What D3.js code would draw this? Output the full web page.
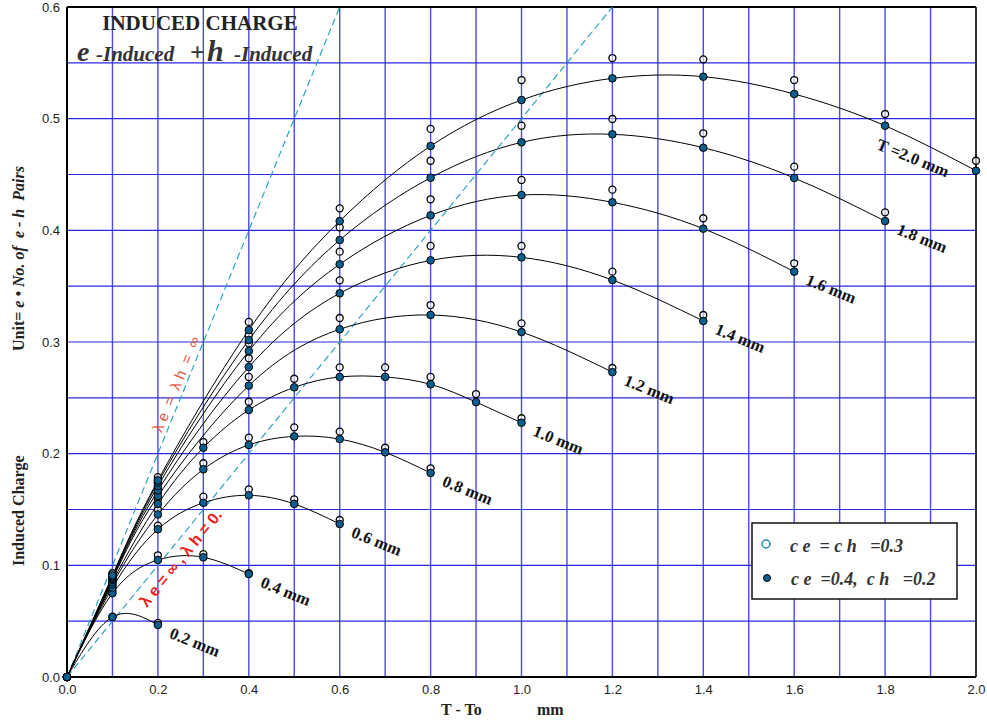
<!DOCTYPE html>
<html>
<head>
<meta charset="utf-8">
<script src="https://cdn.jsdelivr.net/npm/d3@7"></script>
<style>
  body { margin: 0; background: #fff; }
  svg { display: block; }
  .tick text { font-family: "Liberation Sans", Arial, sans-serif; font-size: 13px; fill: #222; }
  .serif { font-family: "Liberation Serif", "Times New Roman", serif; font-weight: bold; }
</style>
</head>
<body>
<script>
var width = 987,
    height = 721;

// thicknesses T (mm) of each curve
const thickness = [0.2, 0.4, 0.6, 0.8, 1.0, 1.2, 1.4, 1.6, 1.8, 2.0];
const curveLabels = ["0.2 mm", "0.4 mm", "0.6 mm", "0.8 mm", "1.0 mm", "1.2 mm", "1.4 mm", "1.6 mm", "1.8 mm", "T =2.0 mm"];

// T - To positions (mm) for every curve
const xT02 = [0, 0.1, 0.2];
const xT04 = [0, 0.1, 0.2, 0.3, 0.4];
const xT06 = [0, 0.1, 0.2, 0.3, 0.4, 0.5, 0.6];
const xT08 = [0, 0.1, 0.2, 0.3, 0.4, 0.5, 0.6, 0.7, 0.8];
const xT10 = [0, 0.1, 0.2, 0.3, 0.4, 0.5, 0.6, 0.7, 0.8, 0.9, 1.0];
const xT12 = [0, 0.1, 0.2, 0.4, 0.6, 0.8, 1.0, 1.2];
const xT14 = [0, 0.1, 0.2, 0.4, 0.6, 0.8, 1.0, 1.2, 1.4];
const xT16 = [0, 0.1, 0.2, 0.4, 0.6, 0.8, 1.0, 1.2, 1.4, 1.6];
const xT18 = [0, 0.1, 0.2, 0.4, 0.6, 0.8, 1.0, 1.2, 1.4, 1.6, 1.8];
const xT20 = [0, 0.1, 0.2, 0.4, 0.6, 0.8, 1.0, 1.2, 1.4, 1.6, 1.8, 2.0];

// ce = 0.4, ch = 0.2 (filled points, curves drawn through them)
const fT02 = [0, 0.0537, 0.0466];
const fT04 = [0, 0.075, 0.1048, 0.1072, 0.0922];
const fT06 = [0, 0.080, 0.1323, 0.156, 0.1627, 0.155, 0.137];
const fT08 = [0, 0.083, 0.1455, 0.186, 0.2078, 0.2155, 0.2131, 0.2012, 0.1827];
const fT10 = [0, 0.085, 0.155, 0.2053, 0.2391, 0.2594, 0.2687, 0.2687, 0.2621, 0.2462, 0.2277];
const fT12 = [0, 0.087, 0.162, 0.2609, 0.3114, 0.3242, 0.3089, 0.273];
const fT14 = [0, 0.088, 0.167, 0.2776, 0.3436, 0.3731, 0.3758, 0.3555, 0.3188];
const fT16 = [0, 0.089, 0.171, 0.2919, 0.3696, 0.4134, 0.4316, 0.4251, 0.4015, 0.363];
const fT18 = [0, 0.090, 0.174, 0.3018, 0.3913, 0.4471, 0.4788, 0.486, 0.474, 0.4469, 0.4083];
const fT20 = [0, 0.091, 0.176, 0.3107, 0.4083, 0.4755, 0.5167, 0.5361, 0.5376, 0.5221, 0.4937, 0.4534];

// ce = ch = 0.3 (open points)
const oT02 = [0, 0.054, 0.0485];
const oT04 = [0, 0.077, 0.109, 0.110, 0.093];
const oT06 = [0, 0.082, 0.1355, 0.1615, 0.168, 0.159, 0.1406];
const oT08 = [0, 0.085, 0.150, 0.1914, 0.2143, 0.2236, 0.2197, 0.2053, 0.1869];
const oT10 = [0, 0.087, 0.159, 0.2104, 0.2465, 0.2671, 0.2773, 0.2773, 0.2687, 0.2534, 0.2317];
const oT12 = [0, 0.089, 0.165, 0.2687, 0.3215, 0.3331, 0.3167, 0.2767];
const oT14 = [0, 0.090, 0.170, 0.2854, 0.3552, 0.386, 0.386, 0.363, 0.3242];
const oT16 = [0, 0.091, 0.174, 0.2988, 0.3809, 0.4278, 0.4451, 0.4364, 0.4108, 0.3705];
const oT18 = [0, 0.092, 0.177, 0.306, 0.4027, 0.4623, 0.4937, 0.4997, 0.4869, 0.457, 0.4161];
const oT20 = [0, 0.093, 0.179, 0.318, 0.4197, 0.4908, 0.5346, 0.5543, 0.5531, 0.5346, 0.5042, 0.4623];

const xTicks = [0, 0.2, 0.4, 0.6, 0.8, 1.0, 1.2, 1.4, 1.6, 1.8, 2.0];
const yTicks = [0, 0.1, 0.2, 0.3, 0.4, 0.5, 0.6];

const xs = [xT02, xT04, xT06, xT08, xT10, xT12, xT14, xT16, xT18, xT20];
const filled = [fT02, fT04, fT06, fT08, fT10, fT12, fT14, fT16, fT18, fT20];
const open = [oT02, oT04, oT06, oT08, oT10, oT12, oT14, oT16, oT18, oT20];

var margin = {left: 67, top: 7, right: 11, bottom: 44};
var plotW = width - margin.left - margin.right,
    plotH = height - margin.top - margin.bottom;

var svg = d3.select("body").append("svg")
    .attr("width", width)
    .attr("height", height);

var x = d3.scaleLinear().domain([0, 2]).range([margin.left, margin.left + plotW]);
var y = d3.scaleLinear().domain([0, 0.6]).range([margin.top + plotH, margin.top]);

svg.append("defs").append("clipPath").attr("id", "clip")
  .append("rect")
    .attr("x", margin.left).attr("y", margin.top)
    .attr("width", plotW).attr("height", plotH);

// grille bleue
var grid = svg.append("g");
grid.selectAll(".vg").data(d3.range(1, 20).map(i => i / 10))
  .join("line")
    .attr("x1", d => x(d)).attr("x2", d => x(d))
    .attr("y1", y(0)).attr("y2", y(0.6))
    .style("stroke", "#4a4ae8").style("stroke-width", 1.4);
grid.selectAll(".hg").data(d3.range(1, 12).map(i => i / 20))
  .join("line")
    .attr("x1", x(0)).attr("x2", x(2))
    .attr("y1", d => y(d)).attr("y2", d => y(d))
    .style("stroke", "#2a2ae0").style("stroke-width", 1.2);

// axes
svg.append("g")
    .attr("transform", `translate(0,${y(0)})`)
    .call(d3.axisBottom(x).tickValues(xTicks).tickFormat(d3.format(".1f")).tickSize(0).tickPadding(8))
    .call(g => g.select(".domain").remove());
svg.append("g")
    .attr("transform", `translate(${x(0)},0)`)
    .call(d3.axisLeft(y).tickValues(yTicks).tickFormat(d3.format(".1f")).tickSize(0).tickPadding(7))
    .call(g => g.select(".domain").remove());

// cadre
svg.append("line").attr("x1", x(0)).attr("x2", x(2)).attr("y1", y(0.6)).attr("y2", y(0.6))
    .style("stroke", "#000").style("stroke-width", 2);
svg.append("line").attr("x1", x(0)).attr("x2", x(2)).attr("y1", y(0)).attr("y2", y(0))
    .style("stroke", "#000").style("stroke-width", 2);
svg.append("line").attr("x1", x(0)).attr("x2", x(0)).attr("y1", y(0)).attr("y2", y(0.6))
    .style("stroke", "#000").style("stroke-width", 2);
svg.append("line").attr("x1", x(2)).attr("x2", x(2)).attr("y1", y(0)).attr("y2", y(0.6))
    .style("stroke", "#333").style("stroke-width", 2);

// lignes limites en pointillés
const limitSlopes = [1.0, 0.5];
svg.append("g").attr("clip-path", "url(#clip)")
  .selectAll("line").data(limitSlopes)
  .join("line")
    .attr("x1", x(0)).attr("y1", y(0))
    .attr("x2", d => x(2)).attr("y2", d => y(2 * d))
    .style("stroke", "#1f9cc4").style("stroke-width", 1.1)
    .style("stroke-dasharray", "7,4");

// courbes
var line = d3.line()
    .x(d => x(d[0]))
    .y(d => y(d[1]))
    .curve(d3.curveNatural);

var series = thickness.map((t, i) => ({
    t: t,
    label: curveLabels[i],
    filled: xs[i].map((v, j) => [v, filled[i][j]]),
    open: xs[i].map((v, j) => [v, open[i][j]])
}));

var plot = svg.append("g");
plot.selectAll(".curve").data(series)
  .join("path")
    .attr("d", d => line(d.filled))
    .style("fill", "none")
    .style("stroke", "#000")
    .style("stroke-width", 1);

// points ouverts (ce = ch = 0.3)
plot.selectAll(".open").data(series.flatMap(s => s.open.slice(1)))
  .join("circle")
    .attr("cx", d => x(d[0])).attr("cy", d => y(d[1]))
    .attr("r", 3.5)
    .style("fill", "#fff").style("fill-opacity", 0.6)
    .style("stroke", "#000").style("stroke-width", 1.3);

// points pleins (ce = 0.4, ch = 0.2)
plot.selectAll(".filled").data(series.flatMap(s => s.filled))
  .join("circle")
    .attr("cx", d => x(d[0])).attr("cy", d => y(d[1]))
    .attr("r", 3.8)
    .style("fill", "#0b5f8e")
    .style("stroke", "#000").style("stroke-width", 1);

// étiquettes des courbes
svg.append("g").selectAll("text").data(series)
  .join("text")
    .attr("class", "serif")
    .attr("transform", d => {
        const last = d.filled[d.filled.length - 1];
        const dx = d.t === 2.0 ? -63 : 37;
        const dy = d.t === 2.0 ? -13 : 17;
        return `translate(${x(last[0]) + dx},${y(last[1]) + dy}) rotate(22)`;
    })
    .attr("text-anchor", "middle")
    .attr("dy", "0.35em")
    .style("font-size", "16.5px")
    .style("fill", "#111")
    .text(d => d.label);

// annotations lambda
svg.append("text")
    .attr("transform", `translate(${x(0.255)},${y(0.2597)}) rotate(-67.8)`)
    .attr("text-anchor", "middle")
    .attr("dy", "-2")
    .style("font-family", "'Liberation Sans', Arial, sans-serif")
    .style("font-size", "15px")
    .style("fill", "#e5553c")
    .style("white-space", "pre")
    .text("λ e  =  λ h  =  ∞");

svg.append("text")
    .attr("transform", `translate(${x(0.25)},${y(0.1066)}) rotate(-50.8)`)
    .attr("text-anchor", "middle")
    .attr("dy", "0.35em")
    .style("font-family", "'Liberation Sans', Arial, sans-serif")
    .style("font-weight", "bold")
    .style("font-size", "16px")
    .style("fill", "#e8231c")
    .style("white-space", "pre")
    .text("λ e = ∞ , λ h = 0.");

// titre
svg.append("text")
    .attr("class", "serif")
    .attr("x", 200).attr("y", 30)
    .attr("text-anchor", "middle")
    .style("font-size", "21px")
    .style("fill", "#222")
    .text("INDUCED CHARGE");

var sub = svg.append("text")
    .attr("class", "serif")
    .attr("y", 61)
    .style("fill", "#333")
    .style("font-style", "italic");
sub.append("tspan").attr("x", 77).style("font-size", "28px").text("e");
sub.append("tspan").attr("x", 96).style("font-size", "21px").text("-Induced");
sub.append("tspan").attr("x", 190).style("font-size", "26px").style("font-style", "normal").text("+");
sub.append("tspan").attr("x", 207).style("font-size", "30px").text("h");
sub.append("tspan").attr("x", 234).style("font-size", "21px").text("-Induced");

// titres des axes
svg.append("text")
    .attr("class", "serif")
    .attr("x", 441).attr("y", 715)
    .style("font-size", "16px")
    .style("fill", "#222")
    .style("white-space", "pre")
    .text("T - To");
svg.append("text")
    .attr("class", "serif")
    .attr("x", 537).attr("y", 715)
    .style("font-size", "16px")
    .style("fill", "#222")
    .text("mm");

svg.append("text")
    .attr("class", "serif")
    .attr("transform", "translate(24,566) rotate(-90)")
    .style("font-size", "16px")
    .style("fill", "#222")
    .text("Induced Charge");

var unit = svg.append("text")
    .attr("class", "serif")
    .attr("transform", "translate(24,351) rotate(-90)")
    .style("font-size", "16px")
    .style("fill", "#222")
    .style("white-space", "pre");
unit.append("tspan").text("Unit= ");
unit.append("tspan").style("font-style", "italic").text("e • No. of  e - h  Pairs");

// légende
var legend = svg.append("g");
legend.append("rect")
    .attr("x", 752).attr("y", 523)
    .attr("width", 205).attr("height", 76)
    .style("fill", "#fff")
    .style("stroke", "#111").style("stroke-width", 1.5);
legend.append("circle").attr("cx", 766).attr("cy", 544).attr("r", 4)
    .style("fill", "#fff").style("stroke", "#1a8fb8").style("stroke-width", 1.5);
legend.append("circle").attr("cx", 767).attr("cy", 578).attr("r", 3.5)
    .style("fill", "#0b5f8e").style("stroke", "#000").style("stroke-width", 1);
legend.append("text")
    .attr("class", "serif")
    .attr("x", 790).attr("y", 552)
    .style("font-size", "18px").style("font-style", "italic")
    .style("fill", "#333").style("white-space", "pre")
    .text("c e  = c h   =0.3");
legend.append("text")
    .attr("class", "serif")
    .attr("x", 791).attr("y", 585)
    .style("font-size", "18px").style("font-style", "italic")
    .style("fill", "#333").style("white-space", "pre")
    .text("c e  =0.4,  c h   =0.2");
</script>
</body>
</html>
